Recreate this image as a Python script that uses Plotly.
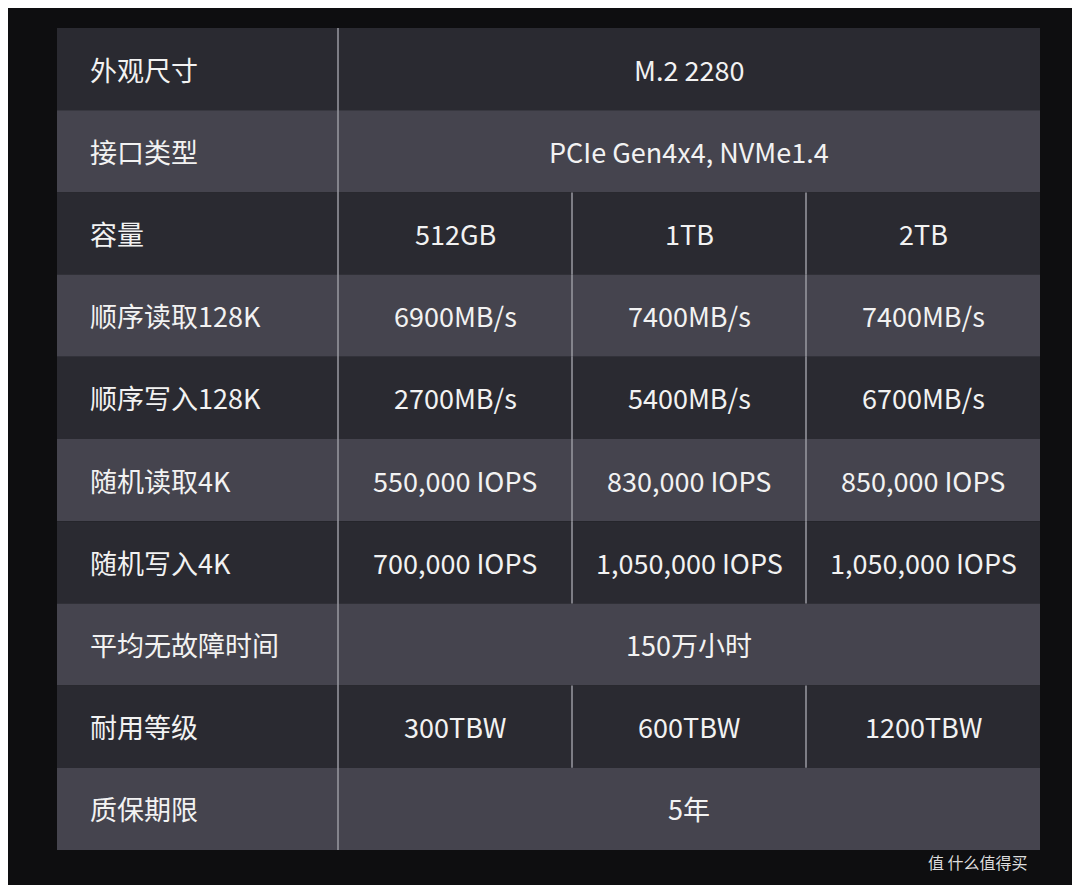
import plotly.graph_objects as go

labels = ["外观尺寸","接口类型","容量","顺序读取128K","顺序写入128K","随机读取4K","随机写入4K","平均无故障时间","耐用等级","质保期限"]
values = [
    ["M.2 2280"],
    ["PCIe Gen4x4, NVMe1.4"],
    ["512GB","1TB","2TB"],
    ["6900MB/s","7400MB/s","7400MB/s"],
    ["2700MB/s","5400MB/s","6700MB/s"],
    ["550,000 IOPS","830,000 IOPS","850,000 IOPS"],
    ["700,000 IOPS","1,050,000 IOPS","1,050,000 IOPS"],
    ["150万小时"],
    ["300TBW","600TBW","1200TBW"],
    ["5年"],
]

X0, XL, X1 = 57, 338, 1040
Y0, Y1 = 28, 850
n = len(labels)
rh = (Y1 - Y0) / n
cw = (X1 - XL) / 3
font = dict(family="Noto Sans CJK SC", size=27, color="#f2f2f2")

fig = go.Figure()
shapes, ann = [], []
for i, (lab, vals) in enumerate(zip(labels, values)):
    y0 = Y0 + i * rh; y1 = y0 + rh; yc = (y0 + y1) / 2
    col = "#2a2a31" if i % 2 == 0 else "#45444e"
    shapes.append(dict(type="rect", x0=X0, x1=X1, y0=y0, y1=y1, fillcolor=col, line_width=0, layer="below"))
    ann.append(dict(x=88, y=yc, text=lab, xanchor="left", showarrow=False, font=font))
    if len(vals) == 1:
        ann.append(dict(x=(XL + X1) / 2, y=yc, text=vals[0], showarrow=False, font=font))
    else:
        for j, v in enumerate(vals):
            ann.append(dict(x=XL + cw * (j + 0.5), y=yc, text=v, showarrow=False, font=font))
        for j in (1, 2):
            shapes.append(dict(type="line", x0=XL + cw * j, x1=XL + cw * j, y0=y0, y1=y1, line=dict(color="#9a9aa2", width=1.5)))
shapes.append(dict(type="line", x0=XL, x1=XL, y0=Y0, y1=Y1, line=dict(color="#9a9aa2", width=1.5)))
ann.append(dict(x=1030, y=862, text="值 什么值得买", xanchor="right", showarrow=False,
                font=dict(family="Noto Sans CJK SC", size=16, color="#dddddd")))

fig.add_trace(go.Scatter(x=[8, 1088], y=[8, 893], mode="markers", marker=dict(opacity=0), hoverinfo="skip"))
fig.update_layout(width=1080, height=885, margin=dict(l=0, r=0, t=0, b=0),
                  paper_bgcolor="#0e0e10", plot_bgcolor="#0e0e10", showlegend=False,
                  shapes=shapes, annotations=ann,
                  xaxis=dict(range=[8, 1088], visible=False, fixedrange=True),
                  yaxis=dict(range=[893, 8], visible=False, fixedrange=True))
fig.write_html("out.html")
